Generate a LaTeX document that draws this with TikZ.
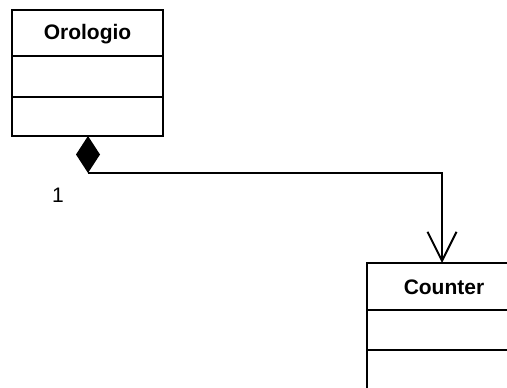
\documentclass[tikz,border=0pt]{standalone}
\usepackage{fontspec}
\setmainfont{Liberation Sans}
\usetikzlibrary{arrows.meta}
\begin{document}
\begin{tikzpicture}[x=1pt,y=-1pt,
  umlline/.style={line width=2pt},
  classname/.style={font=\fontsize{21}{24}\selectfont\bfseries, inner sep=0pt},
  multlabel/.style={font=\fontsize{21}{24}\selectfont, inner sep=0pt}]
  \useasboundingbox (0,0) rectangle (507,388);
  % Orologio class box
  \draw[umlline] (12,10) rectangle (163,136);
  \draw[umlline] (12,56) -- (163,56);
  \draw[umlline] (12,97) -- (163,97);
  \node[classname] (orologio) at (87.5,34) {Orologio};
  \coordinate (orobottom) at (88,136);
  % Counter class box (runs past the frame)
  \draw[umlline] (367,400) -- (367,263) -- (520,263);
  \draw[umlline] (367,310) -- (520,310);
  \draw[umlline] (367,350) -- (520,350);
  \node[classname] (counter) at (444,287) {Counter};
  \coordinate (countertop) at (442,263);
  % composition diamond
  \coordinate (dtip) at (88,173);
  \fill (orobottom) -- (100,154.5) -- (dtip) -- (76,154.5) -- cycle;
  % association
  \draw[line width=1.7pt, -{Straight Barb[length=29pt,width=29pt,line width=2pt]}]
    (dtip) -- (442,173) -- (countertop);
  \node[multlabel] (mult) at (58,195) {1};
\end{tikzpicture}
\end{document}
